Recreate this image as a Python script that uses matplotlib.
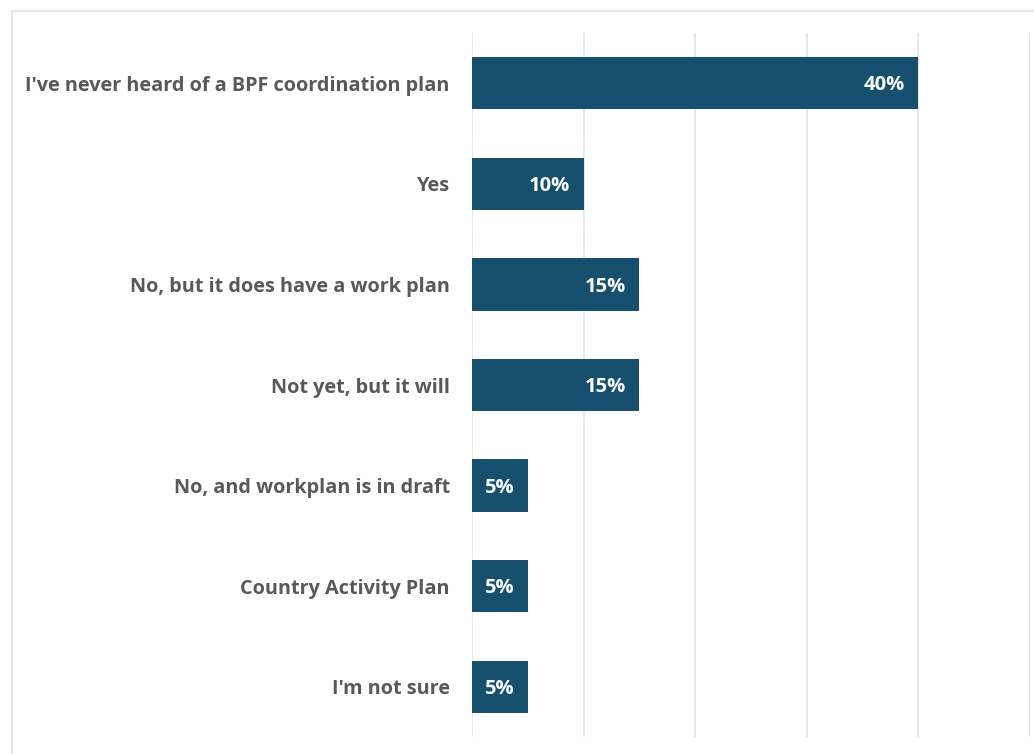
import matplotlib.pyplot as plt
from matplotlib.patches import Rectangle

# survey answers, top to bottom
answers = [
    "I've never heard of a BPF coordination plan",
    "Yes",
    "No, but it does have a work plan",
    "Not yet, but it will",
    "No, and workplan is in draft",
    "Country Activity Plan",
    "I'm not sure",
]
shares = [40, 10, 15, 15, 5, 5, 5]

BAR = "#16506e"
GREY = "#595959"
GRID = "#e3e3e3"

plt.rcParams['font.family'] = ['Open Sans', 'DejaVu Sans']

fig = plt.figure(figsize=(10.34, 7.54), dpi=100)
ax = fig.add_axes([472 / 1034, 17 / 754, 558 / 1034, 704 / 754])

# outer frame (only top and left edges are visible)
fig.patches.append(Rectangle((12 / 1034, -0.5), 1.2, 0.5 + 743 / 754, transform=fig.transFigure,
                             fill=False, edgecolor="#e6e6e6", linewidth=1.5))

ypos = list(range(len(answers)))
ax.barh(ypos, shares, height=0.52, color=BAR, zorder=3)

for y, v in zip(ypos, shares):
    ax.annotate(f"{v}%", xy=(v, y), xytext=(-10, -1.5), textcoords="offset points",
                ha="right", va="center", color="white", fontsize=14.5,
                fontweight="bold", zorder=4)

ax.set_xlim(0, 50)
ax.set_ylim(len(answers) - 0.5, -0.5)
ax.set_xticks([0, 10, 20, 30, 40, 50])
ax.xaxis.grid(True, color=GRID, linewidth=1.2)
ax.tick_params(axis="x", length=0, labelbottom=False)
ax.tick_params(axis="y", length=0, pad=16)
ax.set_yticks(ypos)
ax.set_yticklabels(answers, fontsize=14.3, fontweight="bold", color=GREY)
for s in ax.spines.values():
    s.set_visible(False)

fig.savefig("out.png", dpi=100)
